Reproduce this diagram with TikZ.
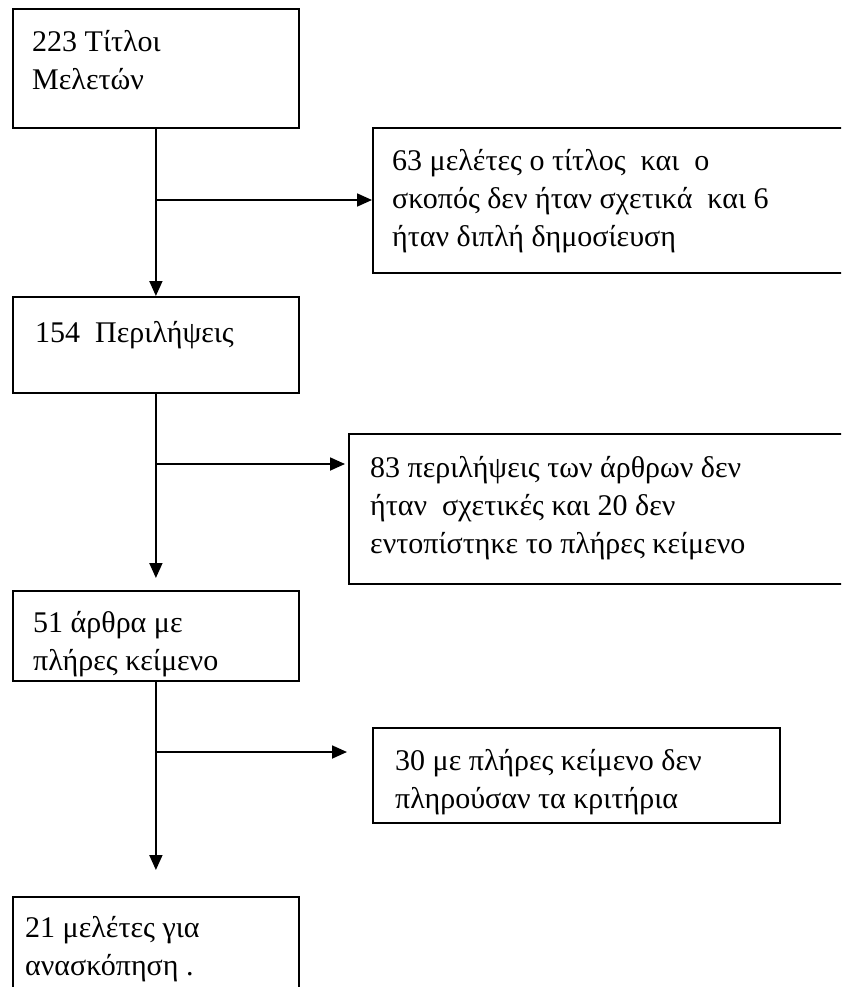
\documentclass[tikz,border=0pt]{standalone}
\usepackage{fontspec}
\setmainfont{Liberation Serif}
\usetikzlibrary{arrows.meta}
\begin{document}
\begin{tikzpicture}[x=1pt,y=-1pt,
  box/.style={draw, line width=1.8pt, rectangle, inner sep=0pt, anchor=north west},
  txt/.style={anchor=base west, inner sep=0pt, align=left, font=\rmfamily\fontsize{30}{38}\selectfont},
  conn/.style={line width=1.8pt, -{Triangle[length=15pt,width=13pt]}}]
\useasboundingbox (0,0) rectangle (841,987);
\clip (0,0) rectangle (841,987);
% boxes
\node[box, minimum width=286pt, minimum height=119pt] (b1) at (12,8) {};
\node[box, minimum width=500pt, minimum height=145pt] (b2) at (372,127) {};
\node[box, minimum width=286pt, minimum height=96pt] (b3) at (12,296) {};
\node[box, minimum width=520pt, minimum height=150pt] (b4) at (348,433) {};
\node[box, minimum width=286pt, minimum height=90pt] (b5) at (12,590) {};
\node[box, minimum width=407pt, minimum height=95pt] (b6) at (372,727) {};
\node[box, minimum width=286pt, minimum height=110pt] (b7) at (12,896) {};
% texts (anchored at the baseline of their last line)
\node[txt] (t1) at (32,90) {223 Τίτλοι\\Μελετών};
\node[txt] (t2) at (392,246) {63 μελέτες ο τίτλος\ \ και\ \ ο\\σκοπός δεν ήταν σχετικά\ \ και 6\\ήταν διπλή δημοσίευση};
\node[txt] (t3) at (35,342) {154\ \ Περιλήψεις};
\node[txt] (t4) at (370,553) {83 περιλήψεις των άρθρων δεν\\ήταν\ \ σχετικές και 20 δεν\\εντοπίστηκε το πλήρες κείμενο};
\node[txt] (t5) at (33,670) {51 άρθρα με\\πλήρες κείμενο};
\node[txt] (t6) at (395,808) {30 με πλήρες κείμενο δεν\\πληρούσαν τα κριτήρια};
\node[txt] (t7) at (25,975) {21 μελέτες για\\ανασκόπηση .};
% junctions
\coordinate (j1) at (156,200);
\coordinate (j2) at (156,464);
\coordinate (j3) at (156,752);
% connectors
\draw[conn] (b1.south) -- (b3.north);
\draw[conn] (j1) -- (b2.west |- j1);
\draw[conn, shorten >=12pt] (b3.south) -- (b5.north);
\draw[conn, shorten >=3pt] (j2) -- (b4.west |- j2);
\draw[conn, shorten >=26pt] (b5.south) -- (b7.north);
\draw[conn, shorten >=25pt] (j3) -- (b6.west |- j3);
\end{tikzpicture}
\end{document}
